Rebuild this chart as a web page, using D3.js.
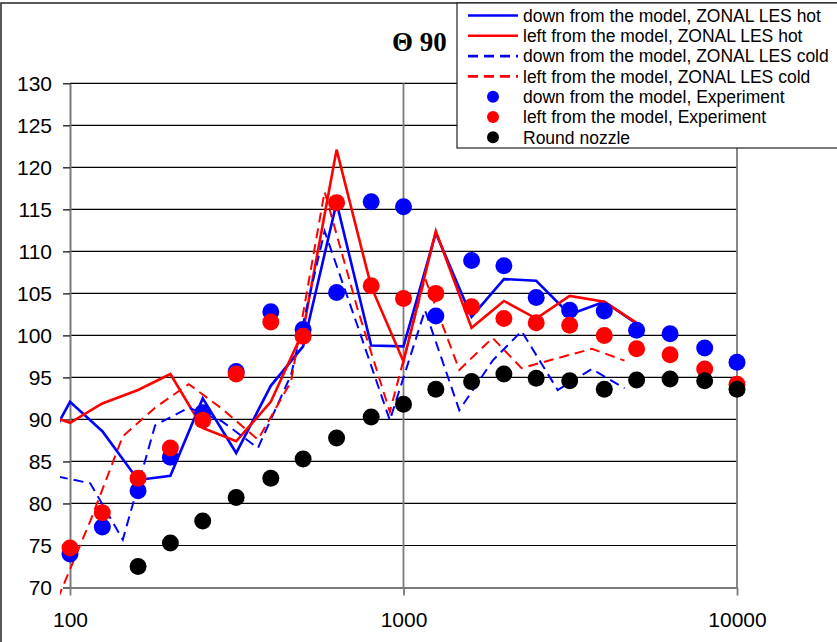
<!DOCTYPE html>
<html>
<head>
<meta charset="utf-8">
<script src="https://cdn.jsdelivr.net/npm/d3@7"></script>
<style>
  html, body { margin: 0; padding: 0; background: #fff; }
  svg { display: block; }
</style>
</head>
<body>
<svg id="chart" width="837" height="642"></svg>
<script>
// Third-octave band centres used by the hot model runs and the measurements
const hotFreq = [80, 100, 125, 160, 200, 250, 315, 400, 500, 630, 800, 1000, 1250, 1600, 2000, 2500, 3150, 4000, 5000];
const downHot = [85.0, 92.1, 88.6, 82.8, 83.3, 92.5, 86.0, 94.0, 98.7, 115.8, 98.8, 98.7, 112.2, 102.2, 106.7, 106.5, 102.5, 104.0, 101.4];
const leftHot = [90.9, 89.6, 91.9, 93.5, 95.4, 89.0, 87.4, 92.1, 100.5, 122.1, 105.8, 96.9, 112.4, 100.9, 104.1, 102.0, 104.7, 104.0, 101.5];

// Cold model runs sit on slightly lower frequencies
const coldFreq = [92, 115, 144, 180, 227, 285, 366, 460, 580, 730, 910, 1160, 1470, 1850, 2260, 2900, 3670, 4600];
const downCold = [83.2, 82.4, 75.7, 89.3, 91.4, 89.8, 86.6, 95.3, 112.4, 101.0, 89.9, 103.0, 91.1, 97.0, 100.5, 93.5, 96.0, 93.7];
const leftCold = [68.7, 77.9, 88.0, 91.4, 94.2, 91.3, 87.6, 94.5, 117.1, 103.0, 90.9, 106.8, 95.9, 99.7, 96.1, 97.3, 98.4, 97.0];

// Measurements
const expFreq = [100, 125, 160, 200, 250, 315, 400, 500, 630, 800, 1000, 1250, 1600, 2000, 2500, 3150, 4000, 5000, 6300, 8000, 10000];
const downExp = [74.0, 77.2, 81.5, 85.5, 90.8, 95.7, 102.8, 100.7, 105.1, 115.9, 115.3, 102.3, 108.9, 108.3, 104.5, 103.0, 102.9, 100.6, 100.2, 98.5, 96.8];
const leftExp = [74.7, 78.9, 83.0, 86.6, 89.9, 95.4, 101.6, 99.9, 115.8, 105.9, 104.4, 105.0, 103.4, 102.0, 101.5, 101.2, 100.0, 98.4, 97.7, 96.0, 94.2];
const roundFreq = [160, 200, 250, 315, 400, 500, 630, 800, 1000, 1250, 1600, 2000, 2500, 3150, 4000, 5000, 6300, 8000, 10000];
const roundNozzle = [72.5, 75.3, 77.9, 80.7, 83.0, 85.3, 87.8, 90.3, 91.8, 93.6, 94.5, 95.4, 94.9, 94.6, 93.6, 94.7, 94.8, 94.6, 93.6];

const xTicks = [100, 1000, 10000];
const yTicks = [70, 75, 80, 85, 90, 95, 100, 105, 110, 115, 120, 125, 130];

const titleText = "\u0398 90";
const legendLabels = [
  "down from the model, ZONAL LES hot",
  "left from the model, ZONAL LES hot",
  "down from the model, ZONAL LES cold",
  "left from the model, ZONAL LES cold",
  "down from the model, Experiment",
  "left from the model, Experiment",
  "Round nozzle"
];

const W = 837, H = 642;
const plot = { left: 70, right: 737, top: 83.3, bottom: 587.5 };
const BLUE = "#0000ff", RED = "#ff0000";

const svg = d3.select("#chart");

const x = d3.scaleLog().domain([100, 10000]).range([plot.left, plot.right]);
const y = d3.scaleLinear().domain([70, 130]).range([plot.bottom, plot.top]);

// outer chart frame
svg.append("rect")
  .attr("x", 1).attr("y", 3)
  .attr("width", W + 20).attr("height", H + 20)
  .attr("fill", "#fff").attr("stroke", "#222").attr("stroke-width", 1.5);

// horizontal gridlines
svg.append("g").selectAll("line").data(yTicks.slice(1)).join("line")
  .attr("x1", plot.left).attr("x2", plot.right)
  .attr("y1", d => y(d)).attr("y2", d => y(d))
  .attr("stroke", "#000").attr("stroke-width", 1.2);

// vertical gridlines at decades
svg.append("g").selectAll("line").data(xTicks.slice(1)).join("line")
  .attr("x1", d => x(d)).attr("x2", d => x(d))
  .attr("y1", plot.top).attr("y2", plot.bottom)
  .attr("stroke", "#7a7a7a").attr("stroke-width", 1.8);

// y axis
const yAxis = svg.append("g")
  .attr("transform", `translate(${plot.left},0)`)
  .call(d3.axisLeft(y).tickValues(yTicks).tickSize(7).tickPadding(11).tickSizeOuter(0));
yAxis.select(".domain").attr("stroke", "#7a7a7a").attr("stroke-width", 2);
yAxis.selectAll(".tick line").attr("stroke", "#000").attr("stroke-width", 1.2);
yAxis.selectAll("text")
  .attr("font-family", "Liberation Sans, Arial, sans-serif")
  .attr("font-size", 21).attr("fill", "#000");

// x axis
const xAxis = svg.append("g")
  .attr("transform", `translate(0,${plot.bottom})`)
  .call(d3.axisBottom(x).tickValues(xTicks).tickSize(8).tickPadding(17).tickSizeOuter(0).tickFormat(d3.format("d")));
xAxis.select(".domain").attr("stroke", "#7a7a7a").attr("stroke-width", 2);
xAxis.selectAll(".tick line").attr("stroke", "#7a7a7a").attr("stroke-width", 1.8);
xAxis.selectAll("text")
  .attr("font-family", "Liberation Sans, Arial, sans-serif")
  .attr("font-size", 21).attr("fill", "#000");

// title
svg.append("text")
  .attr("x", 392).attr("y", 51)
  .attr("font-family", "Liberation Serif, Times New Roman, serif")
  .attr("font-weight", "bold").attr("font-size", 27)
  .attr("fill", "#000")
  .text(titleText);

// model curves, clipped a little left of the y axis
svg.append("clipPath").attr("id", "plotClip")
  .append("rect")
  .attr("x", plot.left - 10).attr("y", 0)
  .attr("width", W).attr("height", H);

const line = d3.line().x(d => x(d[0])).y(d => y(d[1]));
const series = [
  { f: hotFreq, v: downHot, color: BLUE, dash: null, w: 2.6 },
  { f: hotFreq, v: leftHot, color: RED, dash: null, w: 2.6 },
  { f: coldFreq, v: downCold, color: BLUE, dash: "10,6", w: 2 },
  { f: coldFreq, v: leftCold, color: RED, dash: "10,6", w: 2 }
];
const lines = svg.append("g").attr("clip-path", "url(#plotClip)");
series.forEach(s => {
  lines.append("path")
    .datum(s.f.map((f, i) => [f, s.v[i]]))
    .attr("d", line)
    .attr("fill", "none")
    .attr("stroke", s.color)
    .attr("stroke-width", s.w)
    .attr("stroke-linejoin", "miter")
    .attr("stroke-dasharray", s.dash);
});

// measured points
const dots = [
  { f: expFreq, v: downExp, color: BLUE },
  { f: expFreq, v: leftExp, color: RED },
  { f: roundFreq, v: roundNozzle, color: "#000" }
];
dots.forEach(s => {
  svg.append("g").selectAll("circle")
    .data(s.f.map((f, i) => [f, s.v[i]]))
    .join("circle")
    .attr("cx", d => x(d[0])).attr("cy", d => y(d[1]))
    .attr("r", 8.5).attr("fill", s.color);
});

// legend
const lg = svg.append("g");
lg.append("rect")
  .attr("x", 457).attr("y", 3)
  .attr("width", 400).attr("height", 145)
  .attr("fill", "#fff").attr("stroke", "#222").attr("stroke-width", 1.2);

const legendKeys = [
  { type: "line", color: BLUE, dash: null },
  { type: "line", color: RED, dash: null },
  { type: "line", color: BLUE, dash: "10,6" },
  { type: "line", color: RED, dash: "10,6" },
  { type: "dot", color: BLUE },
  { type: "dot", color: RED },
  { type: "dot", color: "#000" }
];
legendKeys.forEach((k, i) => {
  const cy = 15.5 + i * 20.3;
  if (k.type === "line") {
    lg.append("line")
      .attr("x1", 468).attr("x2", 518)
      .attr("y1", cy).attr("y2", cy)
      .attr("stroke", k.color).attr("stroke-width", 2.6)
      .attr("stroke-dasharray", k.dash);
  } else {
    lg.append("circle").attr("cx", 493).attr("cy", cy).attr("r", 6).attr("fill", k.color);
  }
  lg.append("text")
    .attr("x", 523).attr("y", cy)
    .attr("dy", "0.36em")
    .attr("font-family", "Liberation Sans, Arial, sans-serif")
    .attr("font-size", 17.5).attr("fill", "#000")
    .text(legendLabels[i]);
});
</script>
</body>
</html>
